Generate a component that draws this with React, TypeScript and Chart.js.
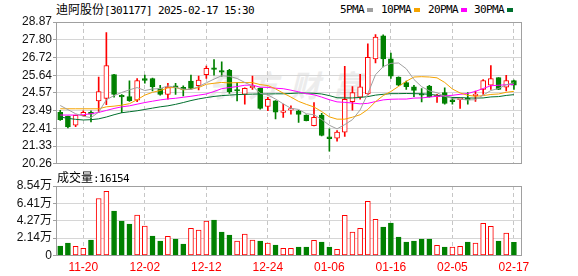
import React, { useEffect, useRef } from 'react';
import { Chart, registerables } from 'chart.js';

Chart.register(...registerables);

// ---------- data ----------
const dates = [
  '11-15', '11-18', '11-19', '11-20', '11-21', '11-22', '11-25', '11-26', '11-27', '11-28',
  '11-29', '12-02', '12-03', '12-04', '12-05', '12-06', '12-09', '12-10', '12-11', '12-12',
  '12-13', '12-16', '12-17', '12-18', '12-19', '12-20', '12-23', '12-24', '12-25', '12-26',
  '12-27', '12-30', '12-31', '01-02', '01-03', '01-06', '01-07', '01-08', '01-09', '01-10',
  '01-13', '01-14', '01-15', '01-16', '01-17', '01-20', '01-21', '01-22', '01-23', '01-24',
  '01-27', '02-05', '02-06', '02-07', '02-10', '02-11', '02-12', '02-13', '02-14', '02-17',
];

const opens = [
  23.38, 23.14, 22.60, 23.18, 23.38, 24.08, 24.23, 25.68, 24.42, 24.34,
  24.12, 25.44, 25.44, 24.83, 24.48, 25.00, 24.90, 25.28, 25.00, 25.67,
  26.05, 25.87, 25.93, 24.72, 24.47, 24.88, 24.84, 23.74, 24.08, 23.38,
  23.52, 23.48, 23.22, 22.58, 23.22, 21.90, 21.82, 22.18, 24.04, 24.30,
  24.50, 26.63, 28.03, 26.63, 25.52, 25.19, 24.94, 24.48, 24.98, 24.34,
  24.58, 24.14, 24.16, 24.22, 24.40, 24.78, 25.03, 25.49, 24.92, 25.32,
];
const highs = [
  23.50, 23.16, 23.22, 23.48, 23.48, 25.52, 28.23, 25.70, 24.46, 25.30,
  25.44, 25.64, 25.46, 25.03, 25.14, 25.14, 25.00, 25.64, 25.58, 26.20,
  26.59, 26.45, 25.99, 25.19, 24.88, 25.58, 24.86, 24.29, 24.10, 23.88,
  23.78, 23.50, 23.24, 23.98, 23.32, 22.38, 22.28, 26.18, 24.95, 25.69,
  27.55, 28.10, 28.09, 26.99, 25.54, 25.28, 25.03, 24.83, 25.02, 24.48,
  24.88, 24.29, 24.22, 24.58, 24.68, 25.38, 26.23, 25.50, 25.63, 25.34,
];
const lows = [
  22.90, 22.44, 22.52, 23.16, 22.80, 23.38, 23.85, 24.30, 23.36, 24.05,
  24.04, 25.15, 24.68, 24.42, 24.18, 24.48, 24.38, 24.80, 24.75, 25.45,
  25.64, 25.58, 24.54, 24.08, 23.88, 24.78, 23.58, 23.48, 22.98, 23.08,
  23.28, 22.78, 22.86, 22.56, 21.96, 21.02, 21.64, 21.92, 23.52, 24.18,
  24.44, 26.39, 26.15, 25.44, 25.00, 24.78, 24.34, 24.02, 24.30, 23.98,
  23.88, 23.88, 23.62, 23.88, 24.05, 24.48, 24.78, 24.76, 24.68, 24.78,
];
const closes = [
  22.94, 22.50, 23.20, 23.38, 23.28, 24.64, 26.23, 24.48, 24.32, 24.10,
  25.32, 25.32, 24.94, 24.47, 24.92, 24.86, 24.78, 24.84, 25.35, 26.05,
  25.99, 25.83, 24.64, 24.68, 24.84, 24.90, 23.62, 24.18, 23.40, 23.42,
  23.54, 23.26, 22.88, 23.08, 21.98, 21.78, 22.18, 24.18, 24.58, 24.94,
  26.72, 27.95, 26.63, 25.58, 25.03, 24.94, 24.72, 24.42, 24.34, 24.42,
  23.92, 24.04, 24.18, 24.14, 24.46, 25.32, 25.43, 24.78, 25.32, 25.03,
];
const prevClose = 23.40;

const volumes = [
  11700, 15400, 11300, 8800, 19000, 70000, 79000, 54700, 42400, 38700,
  49800, 36200, 24000, 17800, 23600, 20300, 14100, 33400, 31300, 42400,
  43600, 28900, 25200, 17800, 26400, 19000, 17800, 15400, 12900, 8800,
  8800, 10400, 10400, 18600, 16600, 10400, 7600, 49400, 28900, 33400,
  66600, 44500, 35000, 39900, 22700, 16600, 17800, 20300, 20300, 12500,
  10400, 10400, 11300, 16600, 15400, 39500, 35900, 17800, 27600, 16154,
];

const ma5 = [
  23.80, 23.55, 23.30, 23.15, 23.06, 23.40, 24.15, 24.40, 24.59, 24.75,
  24.89, 24.71, 24.80, 24.83, 24.99, 24.90, 24.79, 24.77, 24.95, 25.18,
  25.40, 25.61, 25.57, 25.44, 25.20, 24.98, 24.54, 24.44, 24.19, 23.90,
  23.63, 23.56, 23.30, 23.24, 22.95, 22.60, 22.38, 22.64, 22.94, 23.53,
  24.52, 25.67, 26.16, 26.36, 26.38, 26.03, 25.38, 24.94, 24.69, 24.57,
  24.36, 24.23, 24.18, 24.14, 24.15, 24.43, 24.71, 24.83, 25.06, 25.18,
];
const ma10 = [
  23.60, 23.60, 23.60, 23.60, 23.60, 23.60, 23.72, 23.76, 23.82, 23.91,
  24.15, 24.43, 24.60, 24.71, 24.87, 24.90, 24.75, 24.79, 24.89, 25.09,
  25.15, 25.20, 25.17, 25.19, 25.19, 25.19, 25.07, 25.01, 24.81, 24.55,
  24.31, 24.05, 23.87, 23.71, 23.43, 23.11, 22.97, 22.97, 23.09, 23.24,
  23.56, 24.03, 24.40, 24.65, 24.96, 25.27, 25.53, 25.55, 25.53, 25.48,
  25.20, 24.80, 24.56, 24.42, 24.36, 24.40, 24.47, 24.50, 24.60, 24.66,
];
const ma20 = [
  23.22, 23.22, 23.22, 23.24, 23.30, 23.38, 23.50, 23.62, 23.72, 23.78,
  23.88, 23.98, 24.06, 24.14, 24.20, 24.24, 24.30, 24.36, 24.43, 24.50,
  24.65, 24.82, 24.89, 24.95, 25.03, 25.04, 24.91, 24.90, 24.85, 24.82,
  24.73, 24.63, 24.52, 24.45, 24.31, 24.15, 24.02, 23.99, 23.95, 23.90,
  23.93, 24.04, 24.14, 24.18, 24.19, 24.19, 24.25, 24.26, 24.31, 24.36,
  24.38, 24.42, 24.48, 24.53, 24.66, 24.83, 25.00, 25.03, 25.06, 25.07,
];
const ma30 = [
  23.10, 23.02, 22.96, 22.92, 22.94, 22.99, 23.10, 23.24, 23.36, 23.42,
  23.48, 23.56, 23.64, 23.72, 23.78, 23.87, 23.98, 24.10, 24.20, 24.28,
  24.35, 24.40, 24.43, 24.46, 24.48, 24.49, 24.50, 24.50, 24.51, 24.51,
  24.53, 24.56, 24.55, 24.54, 24.50, 24.40, 24.27, 24.26, 24.26, 24.29,
  24.34, 24.43, 24.48, 24.52, 24.52, 24.53, 24.52, 24.51, 24.48, 24.42,
  24.35, 24.29, 24.28, 24.26, 24.25, 24.26, 24.32, 24.34, 24.41, 24.46,
];

const priceTicks = [20.26, 21.33, 22.41, 23.49, 24.57, 25.64, 26.72, 27.80, 28.87];
const volTicks = [0, 21400, 42700, 64100, 85400];
const volTickLabels = ['0', '2.14万', '4.27万', '6.41万', '8.54万'];
const xTickLabels = ['11-20', '12-02', '12-12', '12-24', '01-06', '01-16', '02-05', '02-17'];

const stockName = '迪阿股份';
const stockInfo = '[301177] 2025-02-17 15:30';
const volumeTitle = '成交量';
const lastVolume = 16154;
const maNames = ['5PMA', '10PMA', '20PMA', '30PMA'];
const watermark = '东方财富';

// ---------- styles ----------
const RED = '#ff0000';
const GREEN = '#008000';
const MA_COLORS = ['#a0a0a0', '#f5a300', '#ff00ff', '#006f2e'];
const FRAME = '#a0a0a0';
const GRID = '#d6d6d6';
const VGRID = '#c6c6c6';
const AXIS_FONT = { family: 'Arial, "Liberation Sans", "Noto Sans CJK SC", sans-serif', size: 12 };
const MONO = '"DejaVu Sans Mono", "Liberation Mono", monospace';
const CJK = '"Noto Sans CJK SC", sans-serif';

const idx = dates.map((_, i) => i);
const tickIdx = xTickLabels.map((l) => dates.indexOf(l));
const isUp = (i: number) => closes[i] >= opens[i];
const volUp = (i: number) => closes[i] >= (i === 0 ? prevClose : closes[i - 1]);

const framePlugin = {
  id: 'frame',
  beforeDatasetsDraw(chart: any) {
    const { ctx, chartArea: a } = chart;
    ctx.save();
    ctx.strokeStyle = FRAME;
    ctx.lineWidth = 1;
    const l = Math.round(a.left) + 0.5;
    const t = Math.round(a.top) + 0.5;
    const r = Math.round(a.right) - 0.5;
    const b = Math.round(a.bottom) - 0.5;
    ctx.strokeRect(l, t, r - l, b - t);
    ctx.restore();
  },
};

function xScale(showLabels: boolean) {
  return {
    type: 'linear' as const,
    min: -0.55,
    max: dates.length + 0.05,
    offset: false,
    afterBuildTicks: (s: any) => {
      s.ticks = tickIdx.map((v) => ({ value: v }));
    },
    afterFit: (s: any) => {
      s.height = showLabels ? 20.5 : 0;
    },
    grid: { color: VGRID, drawTicks: false, offset: false, lineWidth: 1 },
    border: { display: false, dash: [4, 3] },
    ticks: {
      display: showLabels,
      autoSkip: false,
      maxRotation: 0,
      color: RED,
      font: AXIS_FONT,
      padding: 5,
      callback: (v: any) => dates[v] ?? '',
    },
  };
}

function baseOptions() {
  return {
    responsive: false,
    animation: false as const,
    devicePixelRatio: 1,
    events: [] as any[],
    plugins: { legend: { display: false }, tooltip: { enabled: false }, title: { display: false } },
  };
}

function priceConfig(): any {
  const lineDs = [ma5, ma10, ma20, ma30].map((arr, k) => ({
    type: 'line',
    label: maNames[k],
    data: idx.map((i) => ({ x: i, y: arr[i] })),
    borderColor: MA_COLORS[k],
    borderWidth: 1,
    pointRadius: 0,
    tension: 0,
    fill: false,
    order: 1,
  }));
  return {
    type: 'bar',
    data: {
      datasets: [
        {
          type: 'bar',
          label: 'wick',
          data: idx.map((i) => ({ x: i, y: [lows[i], highs[i]] })),
          backgroundColor: idx.map((i) => (isUp(i) ? RED : GREEN)),
          borderWidth: 0,
          barThickness: 1,
          grouped: false,
          order: 3,
        },
        {
          type: 'bar',
          label: 'body',
          data: idx.map((i) => ({ x: i, y: [opens[i], closes[i]] })),
          backgroundColor: idx.map((i) => (isUp(i) ? '#ffffff' : GREEN)),
          borderColor: idx.map((i) => (isUp(i) ? RED : GREEN)),
          borderWidth: 1,
          borderSkipped: false,
          barThickness: 5,
          minBarLength: 1.5,
          grouped: false,
          order: 2,
        },
        ...lineDs,
      ],
    },
    options: {
      ...baseOptions(),
      layout: { padding: { left: 0, right: 56, top: 22, bottom: 6.7 } },
      scales: {
        x: xScale(false),
        y: {
          type: 'linear',
          min: priceTicks[0],
          max: priceTicks[priceTicks.length - 1],
          afterBuildTicks: (s: any) => {
            s.ticks = priceTicks.map((v) => ({ value: v }));
          },
          afterFit: (s: any) => {
            s.width = 56;
          },
          grid: { color: GRID, tickColor: FRAME, tickLength: 3, drawTicks: true },
          border: { display: false },
          ticks: {
            color: '#111111',
            font: AXIS_FONT,
            padding: 1,
            autoSkip: false,
            callback: (v: any) => Number(v).toFixed(2),
          },
        },
      },
    },
    plugins: [framePlugin],
  };
}

function volumeConfig(): any {
  return {
    type: 'bar',
    data: {
      datasets: [
        {
          label: volumeTitle,
          data: idx.map((i) => ({ x: i, y: volumes[i] })),
          backgroundColor: idx.map((i) => (volUp(i) ? '#ffffff' : GREEN)),
          borderColor: idx.map((i) => (volUp(i) ? RED : GREEN)),
          borderWidth: 1,
          borderSkipped: false,
          barThickness: 5,
          grouped: false,
        },
      ],
    },
    options: {
      ...baseOptions(),
      layout: { padding: { left: 0, right: 56, top: 14, bottom: 0 } },
      scales: {
        x: xScale(true),
        y: {
          type: 'linear',
          min: volTicks[0],
          max: volTicks[volTicks.length - 1],
          afterBuildTicks: (s: any) => {
            s.ticks = volTicks.map((v) => ({ value: v }));
          },
          afterFit: (s: any) => {
            s.width = 56;
          },
          grid: { color: GRID, tickColor: FRAME, tickLength: 3, drawTicks: true },
          border: { display: false },
          ticks: {
            color: '#111111',
            font: AXIS_FONT,
            padding: 1,
            autoSkip: false,
            callback: (v: any) => volTickLabels[volTicks.indexOf(Number(v))] ?? '',
          },
        },
      },
    },
    plugins: [framePlugin],
  };
}

const legendX = [340, 381, 428, 474];

export default function App() {
  const priceRef = useRef<HTMLCanvasElement>(null);
  const volRef = useRef<HTMLCanvasElement>(null);

  useEffect(() => {
    const c1 = new Chart(priceRef.current as HTMLCanvasElement, priceConfig());
    const c2 = new Chart(volRef.current as HTMLCanvasElement, volumeConfig());
    return () => {
      c1.destroy();
      c2.destroy();
    };
  }, []);

  const mono: React.CSSProperties = { fontFamily: MONO, fontSize: 11, letterSpacing: '-0.62px' };
  const cjk: React.CSSProperties = { fontFamily: CJK, fontSize: 12 };

  return (
    <div
      style={{
        position: 'absolute',
        left: 0,
        top: 0,
        width: 578,
        height: 276,
        background: '#ffffff',
        overflow: 'hidden',
        color: '#000',
      }}
    >
      <div
        style={{
          position: 'absolute',
          left: 206,
          top: 66,
          fontFamily: CJK,
          fontSize: 30,
          fontWeight: 700,
          fontStyle: 'italic',
          letterSpacing: '12px',
          color: '#ececec',
          whiteSpace: 'nowrap',
          lineHeight: '36px',
        }}
      >
        {watermark}
      </div>
      <div style={{ position: 'absolute', left: 56, top: 1, height: 16, lineHeight: '16px', whiteSpace: 'nowrap' }}>
        <span style={cjk}>{stockName}</span>
        <span style={mono}>{stockInfo}</span>
      </div>
      {maNames.map((n, k) => (
        <div
          key={n}
          style={{
            position: 'absolute',
            left: legendX[k],
            top: 2,
            height: 16,
            lineHeight: '16px',
            whiteSpace: 'nowrap',
            ...mono,
          }}
        >
          {n}
          <span
            style={{
              display: 'inline-block',
              width: 6,
              height: 4,
              marginLeft: 3,
              verticalAlign: 'middle',
              background: MA_COLORS[k],
            }}
          />
        </div>
      ))}
      <canvas
        ref={priceRef}
        width={578}
        height={172}
        style={{ position: 'absolute', left: 0, top: 0, width: 578, height: 172 }}
      />
      <canvas
        ref={volRef}
        width={578}
        height={104}
        style={{ position: 'absolute', left: 0, top: 172, width: 578, height: 104 }}
      />
      <div style={{ position: 'absolute', left: 57, top: 169, height: 16, lineHeight: '16px', whiteSpace: 'nowrap' }}>
        <span style={cjk}>{volumeTitle}</span>
        <span style={mono}>:{lastVolume}</span>
      </div>
    </div>
  );
}
